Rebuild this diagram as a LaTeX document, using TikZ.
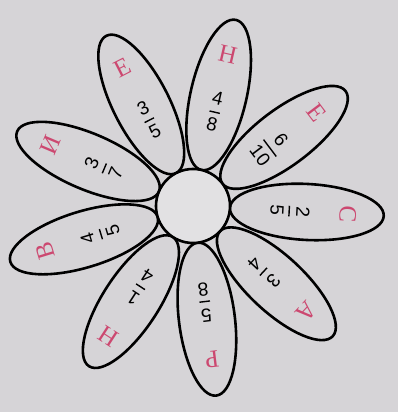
\documentclass[tikz,border=0pt]{standalone}
\usepackage{fontspec}
\setmainfont{Liberation Serif}
\newfontfamily\digitfont{Liberation Sans}
\usepackage{tikz}
\usetikzlibrary{shapes.geometric}
\definecolor{paper}{RGB}{214,212,215}
\definecolor{petalred}{RGB}{204,72,112}
\setlength{\arrayrulewidth}{1.4pt}
\newcommand{\petalfrac}[2]{\begin{tabular}{@{}c@{}}#1\\\hline\rule{0pt}{18pt}#2\end{tabular}}

\begin{document}
\begin{tikzpicture}[x=1pt, y=1pt, line width=2.6pt,
    petal/.style={shape=ellipse, draw, minimum width=154pt, minimum height=56pt, inner sep=0pt},
    fracnum/.style={font=\digitfont\fontsize{19}{22}\selectfont, inner sep=0pt},
    letter/.style={text=petalred, font=\fontsize{25}{27}\selectfont, inner sep=0pt}]
    \fill[paper] (-193,-206) rectangle (205,206);
    \useasboundingbox (-193,-206) rectangle (205,206);
    %Petals, from the right going round
    \foreach \a/\n/\d/\l [count=\i] in {357/2/5/С, 37/6/10/Е, 77/4/8/Н, 117/3/5/Е, 157/3/7/И,
                                        197/4/5/В, 237/1/4/Н, 277/5/8/Р, 317/3/4/А}
    {
        \node[petal, rotate=\a] (petal\i) at (\a:114) {};
        \node[fracnum, rotate=\a-90] (frac\i) at (\a:95) {\petalfrac{\n}{\d}};
        \node[letter, rotate=\a-90] (letter\i) at (\a:155) {\l};
    }
    %Middle of the flower
    \node[circle, draw, fill=paper!70!white, minimum size=74pt] (core) at (0,0) {};
\end{tikzpicture}
\end{document}
